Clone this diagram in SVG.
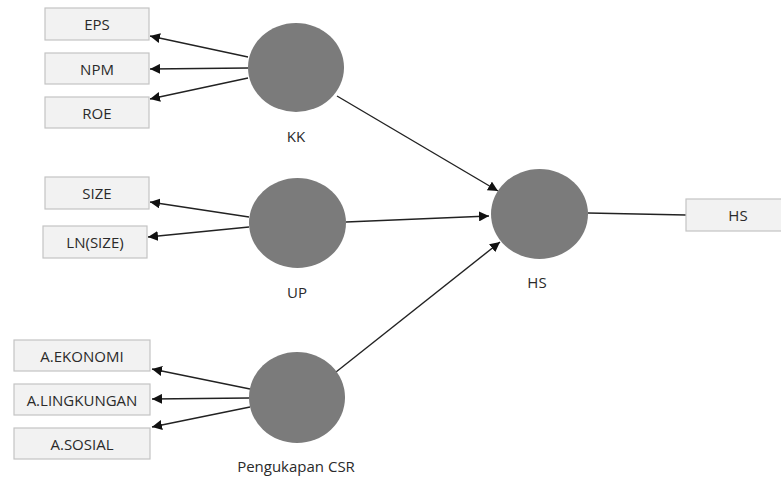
<svg xmlns="http://www.w3.org/2000/svg" width="781" height="479" viewBox="0 0 781 479">
<style>
.box{fill:#f2f2f2;stroke:#c4c4c4;stroke-width:1.2}
.lv{fill:#7b7b7b}
.t{font-family:"Open Sans","Noto Sans",sans-serif;font-size:15px;fill:#2a2a2a;text-anchor:middle;dominant-baseline:central}
.c{stroke:#222;stroke-width:1.4;fill:none}
</style>
<defs>
<marker id="ah" viewBox="0 0 10 10" refX="10" refY="5" markerWidth="10" markerHeight="10" markerUnits="userSpaceOnUse" orient="auto">
<path d="M0,0 L10,5 L0,10 z" fill="#111"/>
</marker>
</defs>
<rect width="781" height="479" fill="#fff"/>
<g id="connectors">
<line class="c" x1="248" y1="57" x2="150" y2="36" marker-end="url(#ah)"/>
<line class="c" x1="248" y1="68" x2="150" y2="69" marker-end="url(#ah)"/>
<line class="c" x1="248" y1="78" x2="150" y2="99" marker-end="url(#ah)"/>
<line class="c" x1="249" y1="217" x2="150" y2="202" marker-end="url(#ah)"/>
<line class="c" x1="249" y1="227" x2="148" y2="237" marker-end="url(#ah)"/>
<line class="c" x1="250" y1="389" x2="152" y2="369" marker-end="url(#ah)"/>
<line class="c" x1="249" y1="398" x2="152" y2="399" marker-end="url(#ah)"/>
<line class="c" x1="250" y1="407" x2="152" y2="427" marker-end="url(#ah)"/>
<line class="c" x1="337" y1="96" x2="498" y2="191" marker-end="url(#ah)"/>
<line class="c" x1="346" y1="222" x2="489" y2="216" marker-end="url(#ah)"/>
<line class="c" x1="336" y1="372" x2="500" y2="242" marker-end="url(#ah)"/>
<line class="c" x1="588" y1="213" x2="686" y2="215"/>
</g>
<g id="EPS"><rect class="box" x="45" y="8" width="104" height="32"/><text class="t" x="97" y="24">EPS</text></g>
<g id="NPM"><rect class="box" x="45" y="53" width="104" height="31"/><text class="t" x="97" y="68.5">NPM</text></g>
<g id="ROE"><rect class="box" x="45" y="97" width="104" height="31"/><text class="t" x="97" y="112.5">ROE</text></g>
<g id="KK"><ellipse class="lv" cx="296" cy="67.5" rx="48" ry="44.5"/><text class="t" x="296" y="136">KK</text></g>
<g id="SIZE"><rect class="box" x="45" y="177" width="104" height="32"/><text class="t" x="97" y="193">SIZE</text></g>
<g id="LNSIZE"><rect class="box" x="43" y="226" width="104" height="32"/><text class="t" x="95" y="242">LN(SIZE)</text></g>
<g id="UP"><ellipse class="lv" cx="297.5" cy="223" rx="48.5" ry="45"/><text class="t" x="297" y="292">UP</text></g>
<g id="AEKONOMI"><rect class="box" x="14" y="340" width="136" height="31"/><text class="t" x="82" y="355.5">A.EKONOMI</text></g>
<g id="ALINGKUNGAN"><rect class="box" x="14" y="384" width="136" height="31"/><text class="t" x="82" y="399.5">A.LINGKUNGAN</text></g>
<g id="ASOSIAL"><rect class="box" x="14" y="428" width="136" height="31"/><text class="t" x="82" y="443.5">A.SOSIAL</text></g>
<g id="CSR"><ellipse class="lv" cx="297" cy="397.5" rx="48" ry="45.5"/><text class="t" x="296" y="466">Pengukapan CSR</text></g>
<g id="HS"><ellipse class="lv" cx="539.5" cy="214" rx="48.5" ry="45"/><text class="t" x="537" y="282">HS</text></g>
<g id="HSbox"><rect class="box" x="686" y="199" width="104" height="32"/><text class="t" x="738" y="215">HS</text></g>
</svg>
